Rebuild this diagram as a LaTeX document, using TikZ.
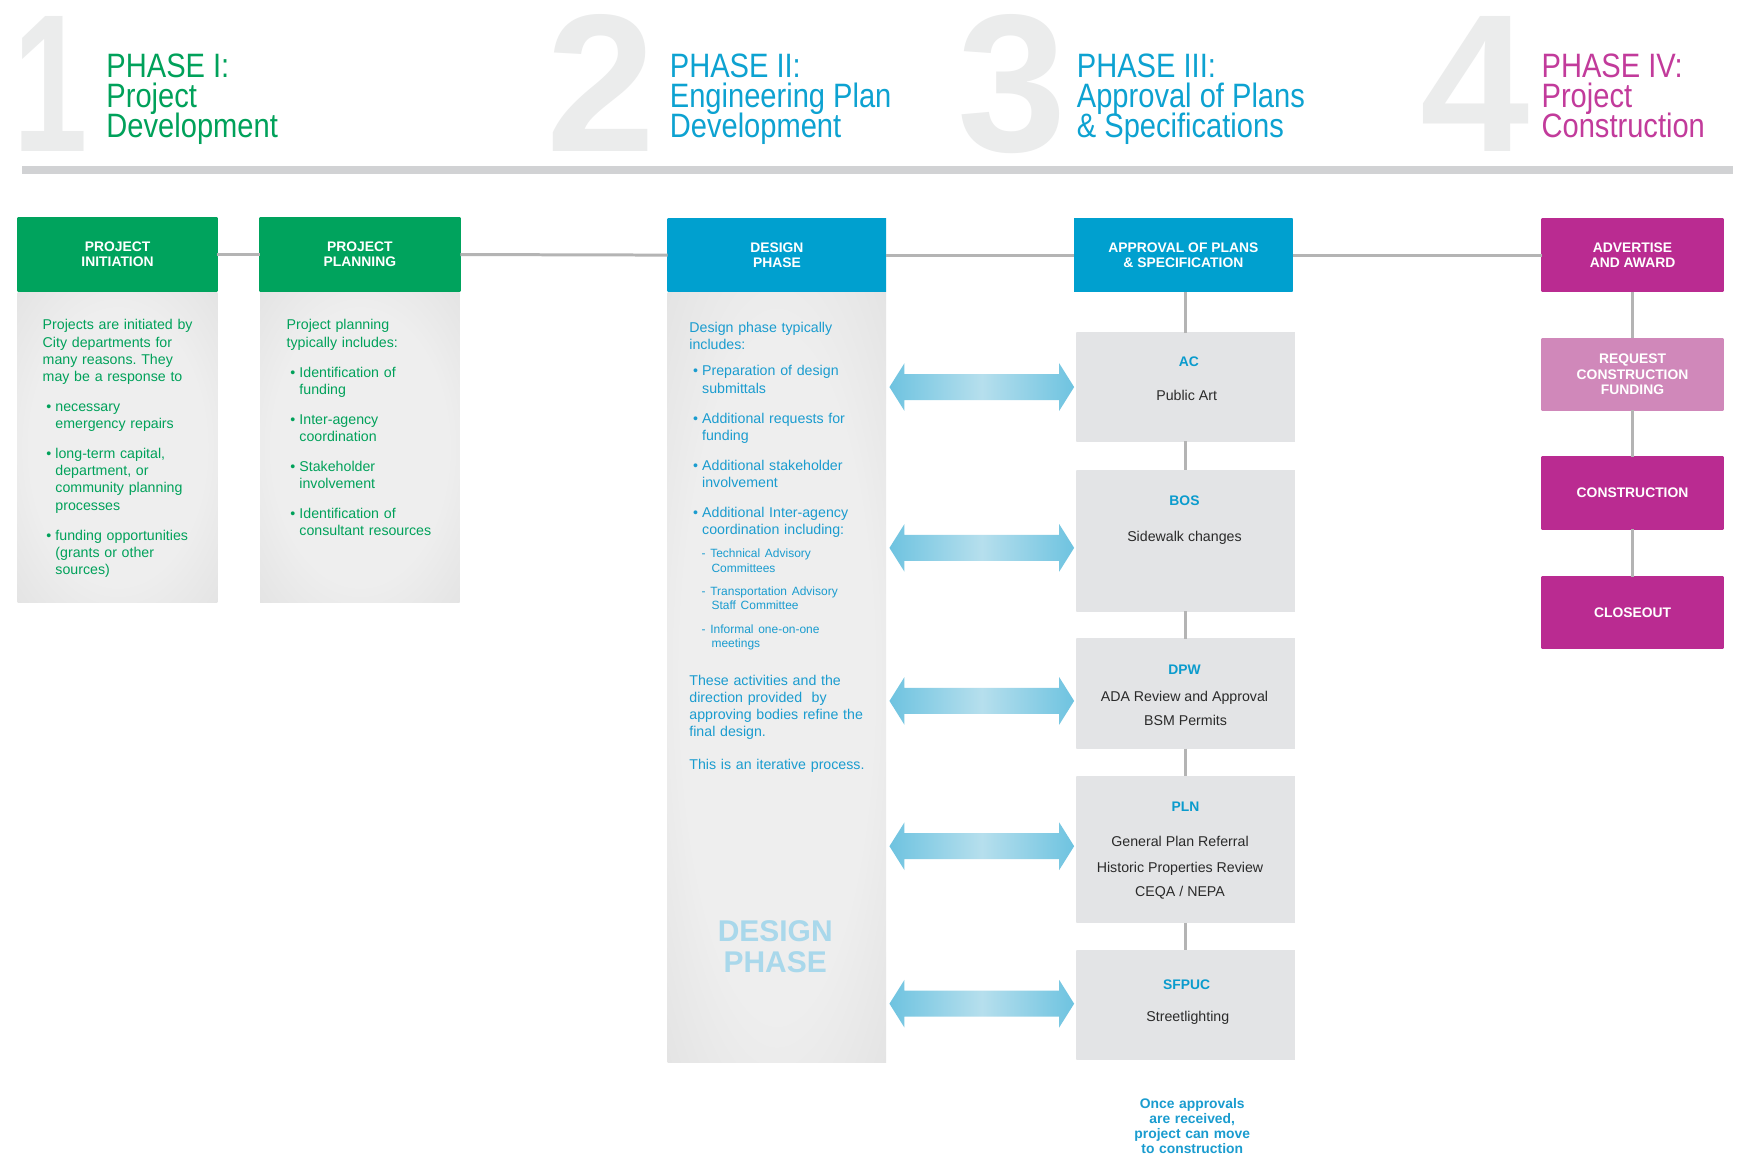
\documentclass[tikz,border=0pt]{standalone}
\usepackage{fontspec}
\usepackage{graphicx}
\setmainfont{Liberation Sans}
\usetikzlibrary{calc}
\definecolor{gA}{HTML}{00A35D}
\definecolor{gB}{HTML}{008E4E}
\definecolor{bA}{HTML}{00A0CF}
\definecolor{bB}{HTML}{0087B3}
\definecolor{mA}{HTML}{BA2B91}
\definecolor{mB}{HTML}{A2237D}
\definecolor{lmA}{HTML}{D088BA}
\definecolor{lmB}{HTML}{C77AB0}
\definecolor{bodyA}{HTML}{EEEEEE}
\definecolor{bodyB}{HTML}{D9D9D9}
\definecolor{boxA}{HTML}{E3E4E6}
\definecolor{boxB}{HTML}{C5C6C8}
\definecolor{gtext}{HTML}{00A15A}
\definecolor{btext}{HTML}{1A9CCF}
\definecolor{ptblue}{HTML}{0DA2D1}
\definecolor{mtext}{HTML}{C23B9B}
\definecolor{numgray}{HTML}{EBECEC}
\definecolor{bargray}{HTML}{D1D2D4}
\definecolor{linegray}{HTML}{B4B4B4}
\definecolor{arrA}{HTML}{6EC3E0}
\definecolor{arrB}{HTML}{B6DFED}
\definecolor{wm}{HTML}{A9D8EB}
\definecolor{dark}{HTML}{2A2A2A}
\definecolor{atblue}{HTML}{0A9BCD}
\pgfdeclareradialshading{vgreen}{\pgfpointorigin}{color(0bp)=(gA); color(36bp)=(gA); color(50bp)=(gB); color(75bp)=(gB)}
\pgfdeclareradialshading{vblue}{\pgfpointorigin}{color(0bp)=(bA); color(36bp)=(bA); color(50bp)=(bB); color(75bp)=(bB)}
\pgfdeclareradialshading{vmag}{\pgfpointorigin}{color(0bp)=(mA); color(36bp)=(mA); color(50bp)=(mB); color(75bp)=(mB)}
\pgfdeclareradialshading{vlmag}{\pgfpointorigin}{color(0bp)=(lmA); color(40bp)=(lmA); color(50bp)=(lmB); color(75bp)=(lmB)}
\pgfdeclareradialshading{vbody}{\pgfpointorigin}{color(0bp)=(bodyA); color(22bp)=(bodyA); color(50bp)=(bodyB); color(75bp)=(bodyB)}
\pgfdeclareradialshading{vbox}{\pgfpointorigin}{color(0bp)=(boxA); color(36bp)=(boxA); color(50bp)=(boxB); color(75bp)=(boxB)}
\newcommand\bl[1]{\noindent\hangindent=11.5pt\hangafter=1\makebox[11.5pt][l]{\hspace{3.4pt}\textbullet}#1\par}
\newcommand\sbl[1]{\noindent\hangindent=20pt\hangafter=1\hspace*{11pt}-\ #1\par}
\newcommand\ptl[1]{\scalebox{0.86}[1]{\parbox[t]{250pt}{\raggedright\lineskiplimit=-50pt\relax #1}}}
\newcommand\fatarrow[3]{%
  \path (#1.east |- #3) ++(3,0) coordinate (fL) (#2.west |- #3) ++(-2,0) coordinate (fR);
  \shade[left color=arrA,right color=arrA,middle color=arrB] (fL) -- ++(13.5,-21.5) -- ++(0,9.8) -- ($(fR)+(-13.5,-11.7)$) -- ++(0,-9.8) -- (fR) -- ++(-13.5,21.5) -- ++(0,-9.8) -- ($(fL)+(13.5,11.7)$) -- ++(0,9.8) -- cycle;}
\frenchspacing
\begin{document}
\begin{tikzpicture}[x=1pt,y=-1pt,
  every node/.style={inner sep=0pt,outer sep=0pt},
  hdr/.style={shade, minimum height=66pt, text=white, align=center, font=\fontsize{12.5}{13.7}\selectfont\bfseries},
  gbody/.style={shade, shading=vbody},
  gtxt/.style={anchor=base west, text width=170pt, align=left, text=gtext, font=\fontsize{12.8}{15.5}\selectfont\frenchspacing},
  btxt/.style={gtxt, text=btext},
  abox/.style={shade, shading=vbox, minimum width=197pt},
  atitle/.style={text=atblue, font=\fontsize{12.5}{14}\selectfont\bfseries, text height=9.2pt, text depth=0pt},
  aline/.style={text=dark, font=\fontsize{12.8}{15}\selectfont, text height=9.3pt, text depth=2.7pt},
  ptitle/.style={anchor=base west, font=\fontsize{30.5}{27}\selectfont},
  bignum/.style={anchor=base, text=numgray, font=\fontsize{177}{177}\selectfont\bfseries},
  conn/.style={draw=linegray, line width=2.7pt}]
\useasboundingbox (0,0) rectangle (1568,1042);
\fill[white] (0,0) rectangle (1568,1042);
% big numbers
\node[bignum] (n1) at (46,137) {\scalebox{0.68}[1]{1}};
\node[bignum] (n2) at (542,137) {2};
\node[bignum] (n3) at (913,137) {3};
\node[bignum] (n4) at (1330,137) {4};
% phase titles
\node[ptitle, text=gtext] (p1) at (96,70) {\ptl{PHASE I:\\Project\\Development}};
\node[ptitle, text=ptblue] (p2) at (604,70) {\ptl{PHASE II:\\Engineering Plan\\Development}};
\node[ptitle, text=ptblue] (p3) at (971,70) {\ptl{PHASE III:\\Approval of Plans\\\& Specifications}};
\node[ptitle, text=mtext] (p4) at (1390,70) {\ptl{PHASE IV:\\Project\\Construction}};
\fill[bargray] (20,150) rectangle (1563,157);
% phase I boxes
\node[hdr, shading=vgreen, minimum width=180pt] (init) at (106,229.5) {PROJECT\\INITIATION};
\node[gbody, minimum width=180pt, minimum height=280pt] (initb) at (106,403.5) {};
\node[hdr, shading=vgreen, minimum width=181pt] (plan) at (324.5,229.5) {PROJECT\\PLANNING};
\node[gbody, minimum width=180pt, minimum height=280pt] (planb) at (324.5,403.5) {};
% design
\node[hdr, shading=vblue, minimum width=197pt] (design) at (700.5,230) {DESIGN\\PHASE};
\node[gbody, minimum width=197pt, minimum height=694pt] (dbody) at (700.5,611) {};
% approval
\node[hdr, shading=vblue, minimum width=197pt] (appr) at (1067,230) {APPROVAL OF PLANS\\\& SPECIFICATION};
\node[abox, minimum height=98pt] (ac) at (1069,349) {};
\node[abox, minimum height=127pt] (bos) at (1069,487.5) {};
\node[abox, minimum height=99pt] (dpw) at (1069,625.5) {};
\node[abox, minimum height=132pt] (pln) at (1069,766) {};
\node[abox, minimum height=98pt] (sf) at (1069,906) {};
% construction
\node[hdr, shading=vmag, minimum width=164pt] (adv) at (1472,230) {ADVERTISE\\AND AWARD};
\node[hdr, shading=vlmag, minimum width=164pt, minimum height=65pt] (req) at (1472,337.5) {REQUEST\\CONSTRUCTION\\FUNDING};
\node[hdr, shading=vmag, minimum width=164pt, minimum height=65pt] (cons) at (1472,444.5) {CONSTRUCTION};
\node[hdr, shading=vmag, minimum width=164pt, minimum height=65pt] (close) at (1472,552.5) {CLOSEOUT};
% connectors
\draw[conn] (init.east) -- (plan.west);
\draw[conn] (plan.east) -- (design.west);
\draw[conn] (design.east) -- (appr.west);
\draw[conn] (appr.east) -- (adv.west);
\draw[conn] (ac.north) -- (ac.north |- appr.south);
\draw[conn] (ac.south) -- (bos.north);
\draw[conn] (bos.south) -- (dpw.north);
\draw[conn] (dpw.south) -- (pln.north);
\draw[conn] (pln.south) -- (sf.north);
\draw[conn] (adv.south) -- (req.north);
\draw[conn] (req.south) -- (cons.north);
\draw[conn] (cons.south) -- (close.north);
% arrows
\coordinate (ya) at (0,349);
\coordinate (yb) at (0,494);
\coordinate (yc) at (0,632);
\coordinate (yd) at (0,763);
\coordinate (ye) at (0,905);
\fatarrow{dbody}{ac}{ya}
\fatarrow{dbody}{bos}{yb}
\fatarrow{dbody}{dpw}{yc}
\fatarrow{dbody}{pln}{yd}
\fatarrow{dbody}{sf}{ye}
% body texts
\node[gtxt] (initt) at (38.5,297.5) {Projects are initiated by\newline City departments for\newline many reasons. They\newline may be a response to\par
\vspace{11.5pt}\bl{necessary\newline emergency repairs}
\vspace{11.5pt}\bl{long-term capital,\newline department, or\newline community planning\newline processes}
\vspace{11.5pt}\bl{funding opportunities\newline (grants or other\newline sources)}};
\node[gtxt] (plant) at (258.5,297.5) {Project planning\newline typically includes:\par
\vspace{11.5pt}\bl{Identification of\newline funding}
\vspace{11.5pt}\bl{Inter-agency\newline coordination}
\vspace{11.5pt}\bl{Stakeholder\newline involvement}
\vspace{11.5pt}\bl{Identification of\newline consultant resources}};
\node[btxt] (dest) at (621.6,299.5) {Design phase typically\newline includes:\par
\vspace{8.5pt}\bl{Preparation of design\newline submittals}
\vspace{11.5pt}\bl{Additional requests for\newline funding}
\vspace{11.5pt}\bl{Additional stakeholder\newline involvement}
\vspace{11.5pt}\bl{Additional Inter-agency\newline coordination including:}
{\fontsize{10.8}{13}\selectfont
\vspace{8pt}\sbl{Technical Advisory\newline Committees}
\vspace{8pt}\sbl{Transportation Advisory\newline Staff Committee}
\vspace{8pt}\sbl{Informal one-on-one\newline meetings}}
\vspace{18.5pt}\noindent These activities and the\newline direction provided\ \ by\newline approving bodies refine the\newline final design.\par
\vspace{13.5pt}\noindent This is an iterative process.};
\node[text=wm, align=center, font=\fontsize{27}{28.5}\selectfont\bfseries] (wmk) at (699,853.5) {DESIGN\\PHASE};
% approval labels
\node[atitle] (act) at (1072,326) {AC};
\node[aline] (acc) at (1070,358) {Public Art};
\node[atitle] (bost) at (1068,451) {BOS};
\node[aline] (bosc) at (1068,485) {Sidewalk changes};
\node[atitle] (dpwt) at (1068,604) {DPW};
\node[aline] (dpw1) at (1068,629) {ADA Review and Approval};
\node[aline] (dpw2) at (1069,651) {BSM Permits};
\node[atitle] (plnt) at (1069,727) {PLN};
\node[aline] (pln1) at (1064,760) {General Plan Referral};
\node[aline] (pln2) at (1064,783) {Historic Properties Review};
\node[aline] (pln3) at (1064,805) {CEQA / NEPA};
\node[atitle] (sft) at (1070,888) {SFPUC};
\node[aline] (sfc) at (1071,918) {Streetlighting};
\node[anchor=base, text width=160pt, align=center, text=btext, font=\fontsize{12.5}{13.4}\selectfont\bfseries] (once) at (1075,999.5) {Once approvals\\are received,\\project can move\\to construction};
\end{tikzpicture}
\end{document}
